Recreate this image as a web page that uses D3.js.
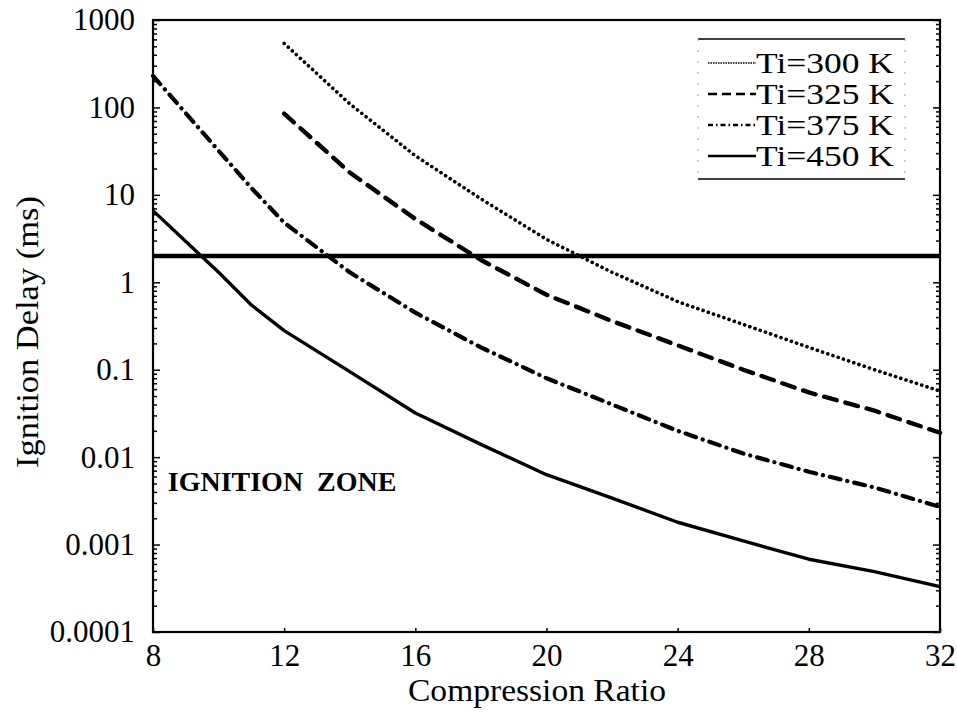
<!DOCTYPE html>
<html lang="en">
  <head>
    <meta charset="UTF-8" />
    <title>Ignition Delay</title>
    <script src="https://d3js.org/d3.v7.min.js"></script>
    <style>
      body { margin: 0; background: #fff; }
      text { font-family: "Liberation Serif", "Times New Roman", serif; fill: #000; }
      .axis path, .axis line { stroke: #000; }
      .axis text { font-size: 31px; }
    </style>
  </head>
  <body>
    <svg width="957" height="713"></svg>
    <script>
      // compression ratios sampled
      const ratios = [8, 10, 11, 12, 14, 16, 18, 20, 22, 24, 26, 28, 30, 32];
      const ratiosHigh = [12, 14, 16, 18, 20, 22, 24, 26, 28, 30, 32];

      // ignition delay (ms)
      const ti300 = [540, 110, 28, 9, 3.1, 1.3, 0.6, 0.33, 0.18, 0.1, 0.057];
      const ti325 = [85, 18, 5.3, 1.8, 0.72, 0.36, 0.19, 0.1, 0.055, 0.034, 0.019];
      const ti375 = [230, 32, 12, 4.8, 1.3, 0.45, 0.18, 0.08, 0.04, 0.02, 0.011, 0.0068, 0.0045, 0.0027];
      const ti450 = [6.6, 1.3, 0.55, 0.28, 0.095, 0.032, 0.014, 0.0063, 0.0034, 0.0018, 0.0011, 0.00068, 0.00049, 0.00033];

      const limitDelay = 2; // horizontal line, ms

      const xTicks = [8, 12, 16, 20, 24, 28, 32];
      const yTicks = [1000, 100, 10, 1, 0.1, 0.01, 0.001, 0.0001];
      const yTickLabels = ["1000", "100", "10", "1", "0.1", "0.01", "0.001", "0.0001"];
      const legendLabels = ["Ti=300 K", "Ti=325 K", "Ti=375 K", "Ti=450 K"];

      const svg = d3.select("svg");
      const margin = { top: 20, right: 17, bottom: 81, left: 153 };
      const width = 957 - margin.left - margin.right,
        height = 713 - margin.top - margin.bottom;

      const g = svg.append("g").attr("transform", `translate(${margin.left},${margin.top})`);

      const x = d3.scaleLinear().domain([8, 32]).range([0, width]);
      const y = d3.scaleLog().domain([0.0001, 1000]).range([height, 0]);

      // minor log ticks
      const minor = y.ticks().filter(v => yTicks.indexOf(v) < 0);

      g.append("g").attr("class", "axis")
        .call(d3.axisLeft(y).tickValues(yTicks).tickSize(-7).tickPadding(18)
          .tickFormat((d, i) => yTickLabels[i]))
        .call(a => a.select(".domain").remove());
      g.append("g").attr("class", "axis")
        .call(d3.axisLeft(y).tickValues(minor).tickSize(-4).tickFormat(""))
        .call(a => a.select(".domain").remove());
      g.append("g").attr("class", "axis").attr("transform", `translate(${width},0)`)
        .call(d3.axisRight(y).tickValues(yTicks).tickSize(-7).tickFormat(""))
        .call(a => a.select(".domain").remove());
      g.append("g").attr("class", "axis").attr("transform", `translate(${width},0)`)
        .call(d3.axisRight(y).tickValues(minor).tickSize(-4).tickFormat(""))
        .call(a => a.select(".domain").remove());

      g.append("g").attr("class", "axis").attr("transform", `translate(0,${height})`)
        .call(d3.axisBottom(x).tickValues(xTicks).tickSize(-4).tickPadding(12).tickFormat(d3.format("d")))
        .call(a => a.select(".domain").remove());

      g.selectAll(".axis line").attr("stroke-width", 1.5);

      // frame
      g.append("rect")
        .attr("width", width).attr("height", height)
        .attr("fill", "none").attr("stroke", "#000").attr("stroke-width", 2.2);

      const line = d3.line().x(d => x(d[0])).y(d => y(d[1]));

      const series = [
        { data: d3.zip(ratiosHigh, ti300), dash: "0.1 5.4", w: 3.6, cap: "round" },
        { data: d3.zip(ratiosHigh, ti325), dash: "13 9", w: 4.4, cap: "round" },
        { data: d3.zip(ratios, ti375), dash: "11 7 0.1 7", w: 4.2, cap: "round" },
        { data: d3.zip(ratios, ti450), dash: null, w: 3.4, cap: "butt" }
      ];

      series.forEach(s => {
        g.append("path")
          .datum(s.data)
          .attr("d", line)
          .attr("fill", "none")
          .attr("stroke", "#000")
          .attr("stroke-width", s.w)
          .attr("stroke-linecap", s.cap)
          .attr("stroke-linejoin", "round")
          .attr("stroke-dasharray", s.dash);
      });

      g.append("line")
        .attr("x1", 0).attr("x2", width)
        .attr("y1", y(limitDelay)).attr("y2", y(limitDelay))
        .attr("stroke", "#000").attr("stroke-width", 4.5);

      g.append("text")
        .attr("x", x(8.45)).attr("y", y(0.0041))
        .style("font-size", "28px").style("font-weight", "bold")
        .attr("xml:space", "preserve")
        .text("IGNITION  ZONE");

      // legend
      const lg = g.append("g").attr("transform", `translate(${545},${19})`);
      lg.append("line").attr("x1", 0).attr("x2", 207).attr("y1", 0).attr("y2", 0)
        .attr("stroke", "#000").attr("stroke-width", 1.5);
      lg.append("line").attr("x1", 0).attr("x2", 207).attr("y1", 140).attr("y2", 140)
        .attr("stroke", "#000").attr("stroke-width", 1.5);
      lg.selectAll(".side").data([0, 207]).enter().append("line")
        .attr("x1", d => d).attr("x2", d => d).attr("y1", 0).attr("y2", 140)
        .attr("stroke", "#999").attr("stroke-width", 1).attr("stroke-dasharray", "2 9");

      legendLabels.forEach((lab, i) => {
        const yy = 24 + i * 31;
        lg.append("line")
          .attr("x1", 10).attr("x2", 58).attr("y1", yy).attr("y2", yy)
          .attr("stroke", "#000")
          .attr("stroke-width", i === 0 ? 1.6 : i === 3 ? 2.6 : 2.4)
          .attr("stroke-dasharray", i === 0 ? "1.5 1" : i === 1 ? "9 5" : i === 2 ? "5 3 1.5 3" : null);
        lg.append("text")
          .attr("x", 58).attr("y", yy + 10)
          .attr("textLength", 138).attr("lengthAdjust", "spacingAndGlyphs")
          .style("font-size", "30px")
          .text(lab);
      });

      // axis titles
      svg.append("text")
        .attr("x", 537).attr("y", 701)
        .attr("text-anchor", "middle")
        .attr("textLength", 258).attr("lengthAdjust", "spacingAndGlyphs")
        .style("font-size", "31px")
        .text("Compression Ratio");

      svg.append("text")
        .attr("transform", `translate(38,332) rotate(-90)`)
        .attr("text-anchor", "middle")
        .attr("textLength", 272).attr("lengthAdjust", "spacingAndGlyphs")
        .style("font-size", "31px")
        .text("Ignition Delay (ms)");
    </script>
  </body>
</html>
